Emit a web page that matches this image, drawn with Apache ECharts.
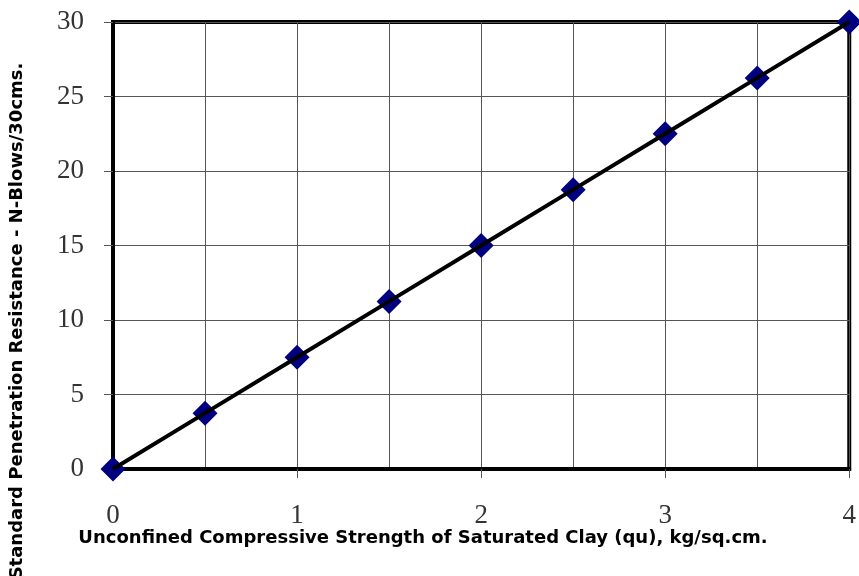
<!DOCTYPE html>
<html>
<head>
<meta charset="utf-8">
<script src="https://cdn.jsdelivr.net/npm/echarts@6/dist/echarts.min.js"></script>
<style>html,body{margin:0;padding:0;background:#fff;}#c{width:859px;height:576px;}</style>
</head>
<body>
<div id="c"></div>
<script>
var quValues = [0, 0.5, 1, 1.5, 2, 2.5, 3, 3.5, 4];
var nValues = [0, 3.75, 7.5, 11.25, 15, 18.75, 22.5, 26.25, 30];
var xTitle = 'Unconfined Compressive Strength of Saturated Clay (qu), kg/sq.cm.';
var yTitle = 'Standard Penetration Resistance - N-Blows/30cms.';

var pts = quValues.map(function (q, i) { return [q, nValues[i]]; });
var chart = echarts.init(document.getElementById('c'));
var labelFont = { fontFamily: 'Liberation Serif, Times New Roman, serif', fontSize: 27, color: '#333' };
var titleFont = 'bold 18px "DejaVu Sans", Arial, sans-serif';
chart.setOption({
  animation: false,
  backgroundColor: '#fff',
  grid: { left: 113, right: 5, top: 22, bottom: 107, show: true, borderColor: '#000', borderWidth: 4 },
  xAxis: {
    type: 'value', min: 0, max: 4, interval: 1,
    axisLine: { show: true, lineStyle: { color: '#000', width: 4 } },
    axisTick: { show: true, inside: false, length: 9, lineStyle: { color: '#555', width: 1 } },
    axisLabel: Object.assign({ margin: 33 }, labelFont),
    splitLine: { show: true, lineStyle: { color: '#555', width: 1 } },
    minorTick: { show: false, splitNumber: 2 },
    minorSplitLine: { show: true, lineStyle: { color: '#555', width: 1 } }
  },
  yAxis: {
    type: 'value', min: 0, max: 30, interval: 5,
    axisLine: { show: true, lineStyle: { color: '#000', width: 4 } },
    axisTick: { show: true, inside: false, length: 9, lineStyle: { color: '#555', width: 1 } },
    axisLabel: Object.assign({ margin: 29 }, labelFont),
    splitLine: { show: true, lineStyle: { color: '#555', width: 1 } }
  },
  graphic: [
    { type: 'text', x: 423, y: 538, style: { text: xTitle, font: titleFont, fill: '#000', align: 'center', verticalAlign: 'middle' } },
    { type: 'text', x: 17, y: 321, rotation: Math.PI / 2, style: { text: yTitle, font: titleFont, fill: '#000', align: 'center', verticalAlign: 'middle' } }
  ],
  series: [
    { type: 'scatter', data: pts, symbol: 'diamond', symbolSize: 25, itemStyle: { color: '#000080', opacity: 1 }, z: 2, clip: false },
    { type: 'line', data: pts, showSymbol: false, lineStyle: { color: '#000', width: 4 }, z: 3, clip: false }
  ]
});
</script>
</body>
</html>
